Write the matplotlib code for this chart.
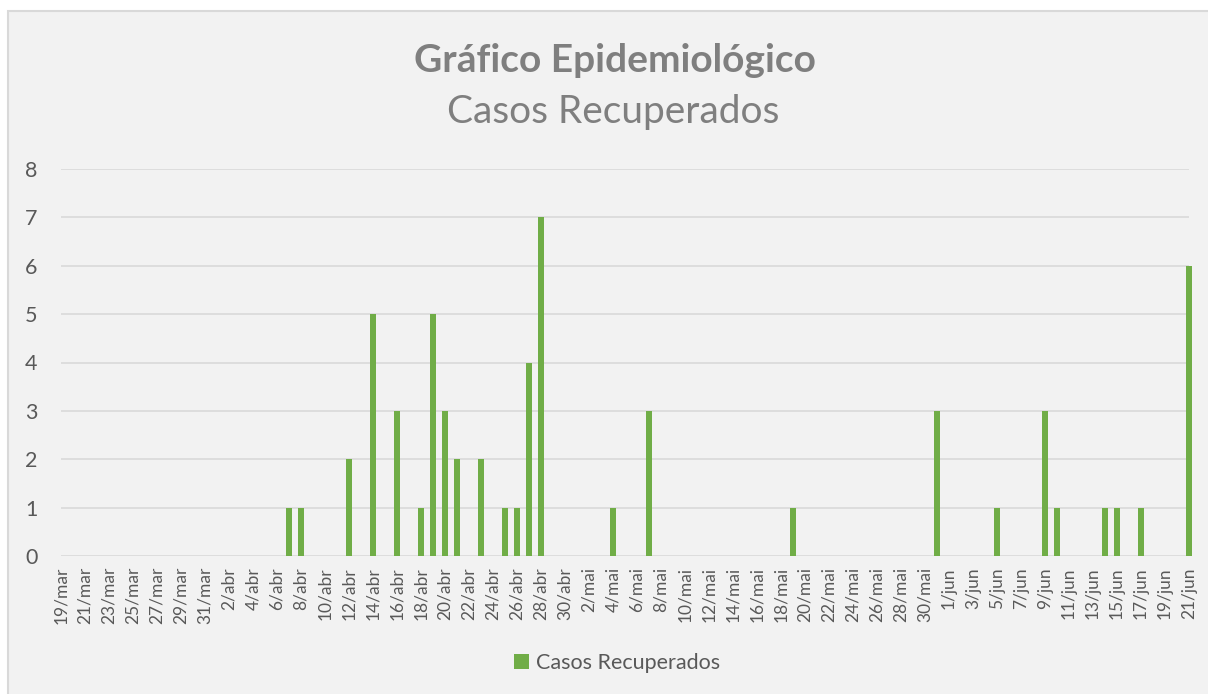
import matplotlib
matplotlib.use("Agg")
import matplotlib.pyplot as plt
import pandas as pd
from matplotlib.patches import Patch, Rectangle

plt.rcParams['font.family'] = ['Lato', 'DejaVu Sans']

# dias de 19/mar a 21/jun
meses = {3: "mar", 4: "abr", 5: "mai", 6: "jun"}
dias = pd.date_range("2020-03-19", "2020-06-21", freq="D")
rotulos = [f"{d.day}/{meses[d.month]}" for d in dias]

# dias com casos recuperados
datas_rec = ["7/abr", "8/abr", "12/abr", "14/abr", "16/abr", "18/abr", "19/abr",
             "20/abr", "21/abr", "23/abr", "25/abr", "26/abr", "27/abr", "28/abr",
             "4/mai", "7/mai", "19/mai", "31/mai", "5/jun", "9/jun", "10/jun",
             "14/jun", "15/jun", "17/jun", "21/jun"]
casos_rec = [1, 1, 2, 5, 3, 1, 5, 3, 2, 2, 1, 1, 4, 7, 1, 3, 1, 3, 1, 3, 1, 1, 1, 1, 6]

valores = [0] * len(rotulos)
for d, c in zip(datas_rec, casos_rec):
    valores[rotulos.index(d)] = c

cinza = "#595959"
verde = "#70AD47"

fig = plt.figure(figsize=(12.08, 6.94), dpi=100)
fig.patch.set_facecolor("white")
fig.patches.append(Rectangle((8 / 1208, -0.01), 1.0, 1 - 11 / 694 + 0.01,
                             transform=fig.transFigure, facecolor="#F2F2F2",
                             edgecolor="#D9D9D9", linewidth=1.5, zorder=-10))

ax = fig.add_axes([61 / 1208, 138 / 694, 1128 / 1208, 387 / 694])
ax.set_facecolor("none")

x = list(range(len(rotulos)))
ax.bar(x, valores, width=0.55, color=verde, zorder=3, clip_on=False)

ax.set_xlim(0, len(rotulos) - 1)
ax.set_ylim(0, 8)
ax.set_yticks(range(0, 9))
ax.yaxis.grid(True, color="#D9D9D9", linewidth=1.2, zorder=0)
ax.set_xticks(x[::2])
ax.set_xticklabels(rotulos[::2], rotation=90, fontsize=12.5, color=cinza)
ax.tick_params(axis="x", length=0, pad=8)
ax.tick_params(axis="y", length=0, pad=17, labelsize=15.5, labelcolor=cinza)
for s in ax.spines.values():
    s.set_visible(False)

fig.text(615 / 1208, 1 - 60 / 694, "Gráfico Epidemiológico", ha="center", va="center",
         fontsize=28, fontweight="bold", color="#7F7F7F")
fig.text(613 / 1208, 1 - 112 / 694, "Casos Recuperados", ha="center", va="center",
         fontsize=28, color="#7F7F7F")

fig.legend(handles=[Patch(facecolor=verde, label="Casos Recuperados")],
           loc="center", bbox_to_anchor=(617 / 1208, 31 / 694), frameon=False,
           fontsize=15.5, handlelength=0.7, handleheight=0.7, handletextpad=0.3,
           labelcolor=cinza)

fig.savefig("out.png", dpi=100, facecolor=fig.get_facecolor())
